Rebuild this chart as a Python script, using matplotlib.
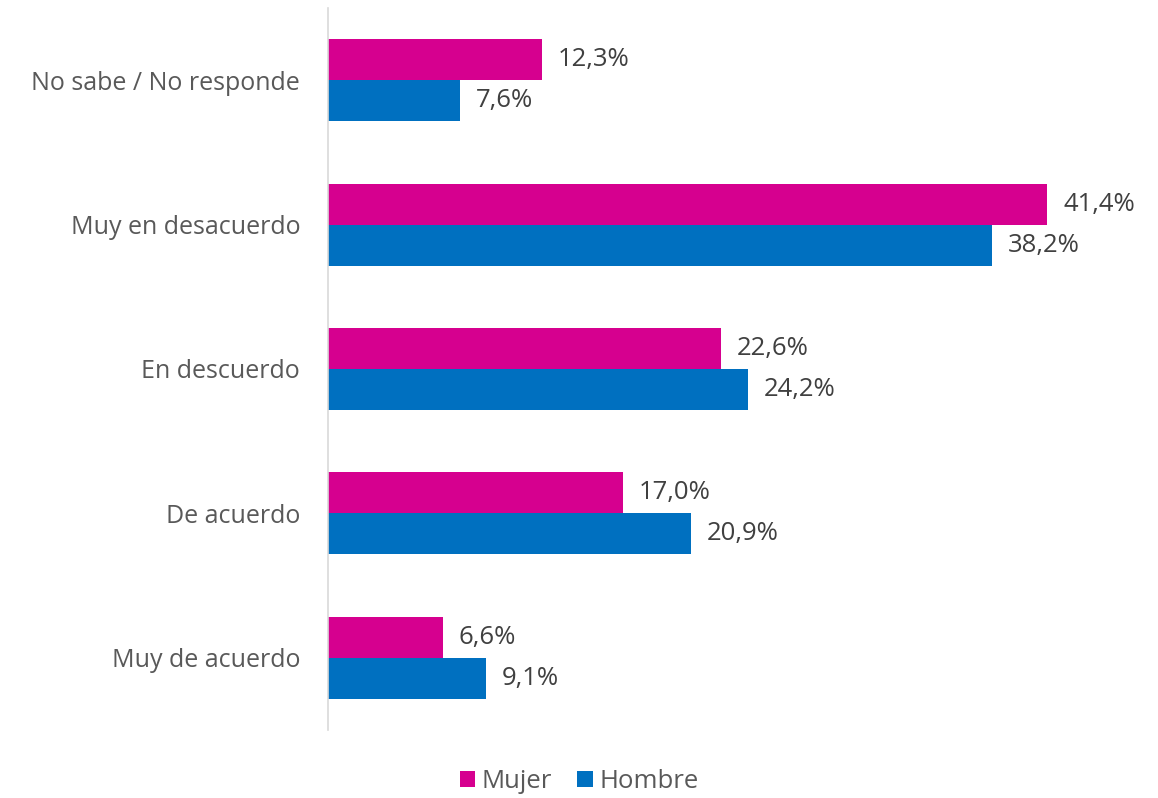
import matplotlib.pyplot as plt
import numpy as np

plt.rcParams['font.family'] = ['Open Sans', 'DejaVu Sans']

categorias = ['Muy de acuerdo', 'De acuerdo', 'En descuerdo', 'Muy en desacuerdo', 'No sabe / No responde']
mujer = [6.6, 17.0, 22.6, 41.4, 12.3]
hombre = [9.1, 20.9, 24.2, 38.2, 7.6]

col_mujer = '#D6008F'
col_hombre = '#0070C0'

fig = plt.figure(figsize=(11.58, 7.98), dpi=100)
ax = fig.add_axes([0.2832, 0.0852, 0.6753, 0.9048])

y = np.arange(len(categorias))
h = 0.284
b1 = ax.barh(y + h / 2, mujer, height=h, color=col_mujer, label='Mujer')
b2 = ax.barh(y - h / 2, hombre, height=h, color=col_hombre, label='Hombre')

for bars, vals in ((b1, mujer), (b2, hombre)):
    for rect, v in zip(bars, vals):
        ax.text(rect.get_width() + 0.9, rect.get_y() + rect.get_height() / 2,
                ('%.1f%%' % v).replace('.', ','), va='center', ha='left',
                fontsize=18.5, color='#404040')

ax.set_xlim(0, 45)
ax.set_ylim(-0.5, 4.5)
ax.set_yticks(y)
ax.set_yticklabels(categorias, fontsize=18, color='#595959')
ax.tick_params(axis='y', length=0, pad=20)
ax.set_xticks([])
for s in ['top', 'right', 'bottom']:
    ax.spines[s].set_visible(False)
ax.spines['left'].set_color('#D9D9D9')
ax.spines['left'].set_linewidth(1.2)

fig.legend(handles=[b1, b2], loc='lower center', bbox_to_anchor=(0.5, -0.024), ncol=2,
           frameon=False, fontsize=18.5, handlelength=0.6, handleheight=0.6,
           handletextpad=0.25, columnspacing=1.0, labelcolor='#595959')

fig.savefig('out.png', dpi=100)
